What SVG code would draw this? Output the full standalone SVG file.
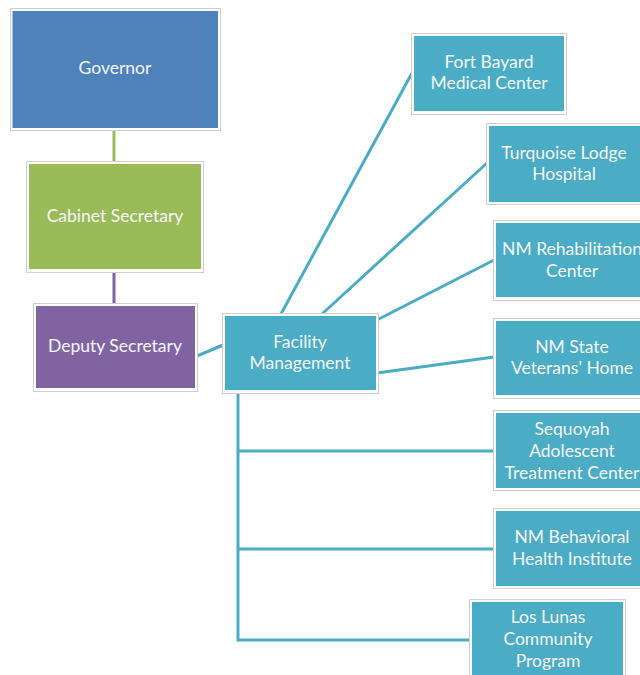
<svg xmlns="http://www.w3.org/2000/svg" width="640" height="675" viewBox="0 0 640 675">
<style>
.o{fill:#ffffff;stroke:#cfcfcf;stroke-width:1}
.t{font-family:Lato,"Open Sans",sans-serif;font-size:17.5px;fill:#f4f7f9;text-anchor:middle}
.c{fill:none;stroke:#4BACC6;stroke-width:3}
.teal{fill:#4BACC6}
</style>
<rect width="640" height="675" fill="#ffffff"/>
<g id="connectors">
<line x1="114" y1="130" x2="114" y2="161" stroke="#9BBB59" stroke-width="3"/>
<line x1="114" y1="272" x2="114" y2="303" stroke="#8064A2" stroke-width="3"/>
<line class="c" x1="197" y1="356" x2="223" y2="345"/>
<line class="c" x1="281" y1="314" x2="412" y2="73"/>
<line class="c" x1="322" y1="314" x2="487" y2="163"/>
<line class="c" x1="377" y1="320" x2="494" y2="260"/>
<line class="c" x1="377" y1="373" x2="494" y2="357"/>
<polyline class="c" points="238,393 238,640 470,640"/>
<line class="c" x1="238" y1="451" x2="494" y2="451"/>
<line class="c" x1="238" y1="549" x2="494" y2="549"/>
</g>
<g id="governor">
<rect class="o" x="10.5" y="8.5" width="210" height="122"/>
<rect x="12.5" y="11" width="205.5" height="117" fill="#4F81BD"/>
<text class="t" x="115" y="74">Governor</text>
</g>
<g id="cabinet">
<rect class="o" x="26.5" y="161.5" width="177" height="111"/>
<rect x="29" y="164" width="172" height="105" fill="#9BBB59"/>
<text class="t" x="115" y="222">Cabinet Secretary</text>
</g>
<g id="deputy">
<rect class="o" x="33.5" y="303.5" width="164" height="88"/>
<rect x="36" y="306" width="159" height="82" fill="#8064A2"/>
<text class="t" x="115" y="352">Deputy Secretary</text>
</g>
<g id="facility">
<rect class="o" x="222.5" y="313.5" width="156" height="80"/>
<rect class="teal" x="225" y="316" width="151" height="74"/>
<text class="t" x="300" y="348">Facility</text>
<text class="t" x="300" y="369">Management</text>
</g>
<g id="fortbayard">
<rect class="o" x="411.5" y="33.5" width="155" height="81"/>
<rect class="teal" x="414" y="36" width="150" height="75"/>
<text class="t" x="489" y="68">Fort Bayard</text>
<text class="t" x="489" y="89">Medical Center</text>
</g>
<g id="turquoise">
<rect class="o" x="486.5" y="123.5" width="160" height="81"/>
<rect class="teal" x="489" y="126" width="155" height="76"/>
<text class="t" x="564" y="159">Turquoise  Lodge</text>
<text class="t" x="564" y="180">Hospital</text>
</g>
<g id="rehab">
<rect class="o" x="493.5" y="220.5" width="160" height="80"/>
<rect class="teal" x="496" y="223" width="155" height="74"/>
<text class="t" x="572" y="255">NM Rehabilitation</text>
<text class="t" x="572" y="277">Center</text>
</g>
<g id="veterans">
<rect class="o" x="493.5" y="318.5" width="160" height="80"/>
<rect class="teal" x="496" y="321" width="155" height="74"/>
<text class="t" x="572" y="353">NM State</text>
<text class="t" x="572" y="374">Veterans' Home</text>
</g>
<g id="sequoyah">
<rect class="o" x="493.5" y="410.5" width="160" height="80"/>
<rect class="teal" x="496" y="413" width="155" height="75"/>
<text class="t" x="572" y="435">Sequoyah</text>
<text class="t" x="572" y="457">Adolescent</text>
<text class="t" x="572" y="479">Treatment Center</text>
</g>
<g id="behavioral">
<rect class="o" x="493.5" y="508.5" width="160" height="80"/>
<rect class="teal" x="496" y="511" width="155" height="75"/>
<text class="t" x="572" y="543">NM Behavioral</text>
<text class="t" x="572" y="565">Health Institute</text>
</g>
<g id="loslunas">
<rect class="o" x="469.5" y="599.5" width="156" height="90"/>
<rect class="teal" x="472" y="602" width="151" height="85"/>
<text class="t" x="548" y="623">Los Lunas</text>
<text class="t" x="548" y="645">Community</text>
<text class="t" x="548" y="667">Program</text>
</g>
</svg>
